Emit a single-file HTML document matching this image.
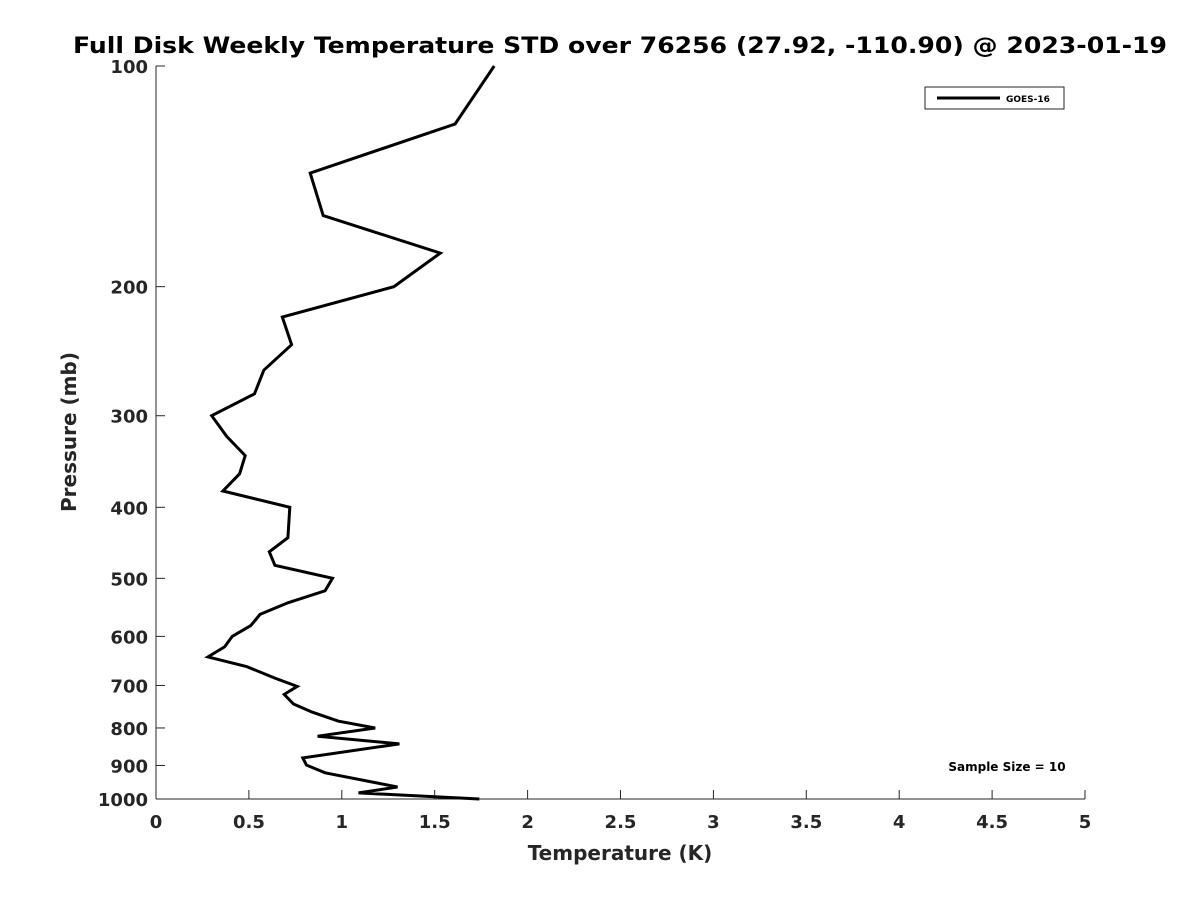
<!DOCTYPE html>
<html><head><meta charset="utf-8"><style>
body{margin:0;background:#fff;}
svg{display:block;font-family:"DejaVu Sans","Liberation Sans",sans-serif;}
</style></head><body>
<svg id="chart" width="1200" height="900" viewBox="0 0 1200 900" xmlns="http://www.w3.org/2000/svg">
<rect width="1200" height="900" fill="#fff"/>
<text x="620" y="53" text-anchor="middle" font-size="22" font-weight="bold" fill="#000" textLength="1094" lengthAdjust="spacingAndGlyphs">Full Disk Weekly Temperature STD over 76256 (27.92, -110.90) @ 2023-01-19</text>
<g id="axes"></g>
<g id="series"></g>
<text x="620" y="860" text-anchor="middle" font-size="20" font-weight="bold" fill="#262626">Temperature (K)</text>
<text transform="translate(76,432) rotate(-90)" text-anchor="middle" font-size="20" font-weight="bold" fill="#262626">Pressure (mb)</text>
<g>
<rect x="925" y="87" width="139" height="22" fill="#fff" stroke="#262626" stroke-width="1"/>
<line x1="937" y1="98" x2="1000" y2="98" stroke="#000" stroke-width="3"/>
<text x="1006" y="102" font-size="9" font-weight="bold" fill="#000">GOES-16</text>
</g>
<text x="1007" y="771" text-anchor="middle" font-size="12" font-weight="bold" fill="#000">Sample Size = 10</text>
</svg>
<script>
const temps=[1.82,1.61,0.83,0.90,1.53,1.28,0.68,0.73,0.58,0.53,0.30,0.38,0.48,0.45,0.36,0.72,0.71,0.61,0.64,0.95,0.91,0.71,0.56,0.51,0.41,0.37,0.28,0.49,0.64,0.76,0.69,0.74,0.84,0.98,1.18,0.87,1.31,0.79,0.81,0.91,1.30,1.09,1.74];
const pressures=[100,120,140,160,180,200,220,240,260,280,300,320,340,360,380,400,440,460,480,500,520,540,560,580,600,620,640,660,684,702,720,742,761,783,800,821,841,879,899,921,963,981,1000];
const xTicks=[0,0.5,1,1.5,2,2.5,3,3.5,4,4.5,5];
const xTickLabels=["0","0.5","1","1.5","2","2.5","3","3.5","4","4.5","5"];
const yTicks=[100,200,300,400,500,600,700,800,900,1000];
const yTickLabels=["100","200","300","400","500","600","700","800","900","1000"];
const L=156,R=1085,T=66,B=799;
const xs=v=>L+(v-0)/(5-0)*(R-L);
const ys=p=>T+(Math.log10(p)-2)/(3-2)*(B-T);
const NS="http://www.w3.org/2000/svg";
const ax=document.getElementById('axes'),sr=document.getElementById('series');
function mk(t,a,parent){const e=document.createElementNS(NS,t);for(const k in a)e.setAttribute(k,a[k]);parent.appendChild(e);return e;}
const yl=mk('line',{x1:L,y1:T,x2:L,y2:B,stroke:'#262626','stroke-width':1},ax);


const xl=mk('line',{x1:L,y1:B,x2:R,y2:B,stroke:'#262626','stroke-width':1},ax);


xTicks.forEach((v,i)=>{const x=xs(v);
mk('line',{x1:x,y1:B,x2:x,y2:B-9,stroke:'#262626'},ax);
const t=mk('text',{x:x,y:B+29,'text-anchor':'middle','font-size':18,'font-weight':'bold',fill:'#262626'},ax);t.textContent=xTickLabels[i];

});
yTicks.forEach((p,i)=>{const y=ys(p);
mk('line',{x1:L,y1:y,x2:L+9,y2:y,stroke:'#262626'},ax);
const t=mk('text',{x:L-8,y:y+7,'text-anchor':'end','font-size':18,'font-weight':'bold',fill:'#262626'},ax);t.textContent=yTickLabels[i];

});
const pts=temps.map((v,i)=>xs(v).toFixed(1)+','+ys(pressures[i]).toFixed(1)).join(' ');
const line=mk('polyline',{points:pts,fill:'none',stroke:'#000','stroke-width':3,'stroke-linejoin':'miter'},sr);


</script>
</body></html>
